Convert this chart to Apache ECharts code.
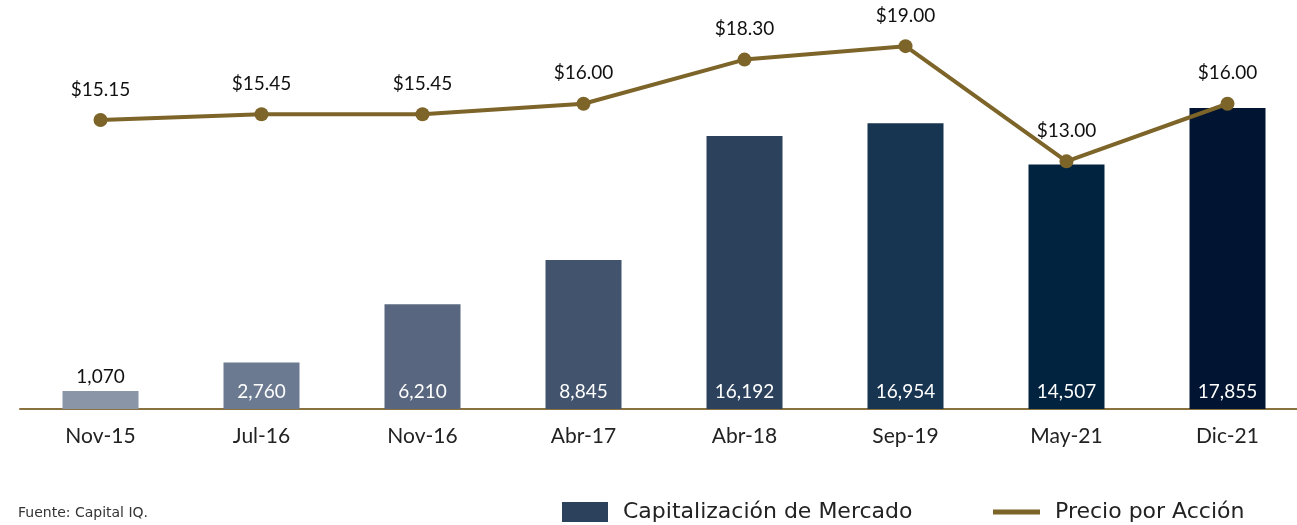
<!DOCTYPE html>
<html>
<head>
<meta charset="utf-8">
<script src="https://cdn.jsdelivr.net/npm/echarts@6/dist/echarts.min.js"></script>
<style>
html,body{margin:0;padding:0;background:#fff;}
#c{width:1297px;height:525px;}
</style>
</head>
<body>
<div id="c"></div>
<script>
const categories = ['Nov-15','Jul-16','Nov-16','Abr-17','Abr-18','Sep-19','May-21','Dic-21'];
const marketCap = [1070, 2760, 6210, 8845, 16192, 16954, 14507, 17855];
const price = [15.15, 15.45, 15.45, 16.00, 18.30, 19.00, 13.00, 16.00];
const barColors = ['#8a96a8','#6b7a91','#58677f','#41536d','#2c415c','#173450','#02233f','#011431'];

const FONT = 'Lato, "Noto Sans", sans-serif';
const WIDE = '"DejaVu Sans", sans-serif';
const gold = '#7d6429';

const chart = echarts.init(document.getElementById('c'));
chart.setOption({
  animation: false,
  grid: {left: 20, top: 9, width: 1288, height: 400, containLabel: false, outerBoundsMode: 'none'},
  legend: [
    {
      top: 501, left: 562, padding: 0,
      textStyle: {fontFamily: WIDE, fontSize: 22, color: '#222', padding: [0, 0, 0, 10]},
      data: [{name: 'Capitalización de Mercado', icon: 'rect', itemStyle: {color: '#2c415c'}}],
      itemWidth: 46, itemHeight: 20
    },
    {
      top: 501, left: 993, padding: 0,
      textStyle: {fontFamily: WIDE, fontSize: 22, color: '#222', padding: [0, 0, 0, 10]},
      data: [{name: 'Precio por Acción', icon: 'rect', itemStyle: {color: gold}}],
      itemWidth: 47, itemHeight: 5
    }
  ],
  graphic: [{
    type: 'text', left: 18, top: 506,
    style: {text: 'Fuente: Capital IQ.', fontFamily: WIDE, fontSize: 14, fill: '#333'}
  }],
  xAxis: {
    type: 'category', data: categories,
    axisLine: {lineStyle: {color: '#8a7240', width: 2}},
    axisTick: {show: false},
    axisLabel: {fontFamily: FONT, fontSize: 21, color: '#222', margin: 17}
  },
  yAxis: [
    {type: 'value', min: 0, max: 23728, show: false, splitLine: {show: false}},
    {type: 'value', min: 0.104, max: 20.934, show: false, splitLine: {show: false}}
  ],
  series: [
    {
      name: 'Capitalización de Mercado', type: 'bar', yAxisIndex: 0,
      barWidth: 76,
      data: marketCap.map((v, i) => ({
        value: v,
        itemStyle: {color: barColors[i]},
        label: i === 0 ? {position: 'top', color: '#111', distance: 5} : {position: 'insideBottom', color: '#fff', distance: 8}
      })),
      label: {show: true, fontFamily: FONT, fontSize: 19,
        formatter: p => p.value.toLocaleString('en-US')}
    },
    {
      name: 'Precio por Acción', type: 'line', yAxisIndex: 1,
      data: price,
      lineStyle: {color: gold, width: 4},
      itemStyle: {color: gold},
      symbol: 'circle', symbolSize: 14,
      label: {show: true, position: 'top', distance: 14, fontFamily: FONT, fontSize: 19, color: '#111',
        formatter: p => '$' + p.value.toFixed(2)},
      z: 5
    }
  ]
});
</script>
</body>
</html>
